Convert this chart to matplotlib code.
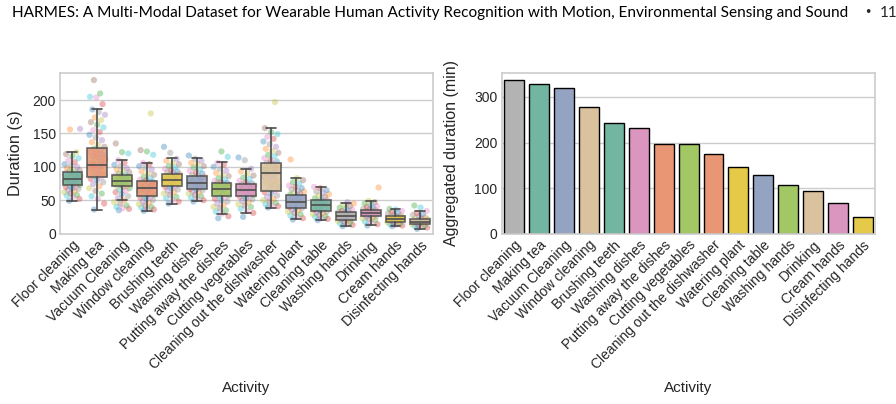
import numpy as np
import matplotlib
matplotlib.use("Agg")
import matplotlib.pyplot as plt
import seaborn as sns

sns.set_theme(style="whitegrid")
plt.rcParams['font.family'] = ['Liberation Sans', 'DejaVu Sans']

activities = ["Floor cleaning", "Making tea", "Vacuum Cleaning", "Window cleaning",
              "Brushing teeth", "Washing dishes", "Putting away the dishes",
              "Cutting vegetables", "Cleaning out the dishwasher", "Watering plant",
              "Cleaning table", "Washing hands", "Drinking", "Cream hands",
              "Disinfecting hands"]

# box statistics (seconds)
q1 = [72.5, 85, 71.5, 56.5, 71, 67.5, 56, 56.5, 64, 39, 34, 21, 26, 17.5, 14]
med = [82.5, 102.5, 79, 69, 80, 76, 67.5, 66, 91.5, 47.5, 42.5, 26.5, 31, 22, 17.5]
q3 = [92.4, 127.5, 87.5, 78.5, 89, 86, 76.5, 74, 105, 58.5, 50, 32.5, 36, 26, 22.5]
whislo = [49, 36, 50, 34, 45, 48.5, 30, 31.5, 39, 21.5, 20, 11.5, 12.5, 11.5, 7.5]
whishi = [122, 186, 110, 106, 112.5, 112.5, 106.5, 97, 158.5, 83.5, 70, 46.5, 49, 37.5, 34]

# individual recordings (seconds), approximate
durations = [
    [49, 52, 55, 57, 58, 60, 62, 64, 65, 67, 68, 70, 71, 72, 73, 74, 75, 76, 77, 78, 79, 80, 81, 82, 83, 84,
     85, 86, 87, 88, 89, 90, 91, 92, 93, 95, 96, 98, 100, 102, 104, 107, 110, 113, 116, 119, 122, 156, 157],
    [36, 45, 52, 56, 60, 64, 68, 71, 74, 77, 80, 82, 84, 86, 88, 90, 92, 94, 96, 98, 100, 102, 103, 105, 106,
     108, 110, 112, 114, 116, 118, 120, 122, 125, 127, 130, 133, 137, 140, 144, 148, 152, 155, 159, 163, 167,
     170, 174, 178, 182, 186, 194, 204, 205, 210, 230],
    [35, 37, 38, 40, 42, 45, 47, 50, 53, 56, 59, 62, 64, 66, 68, 70, 71, 72, 73, 74, 75, 76, 77, 78, 79, 80,
     81, 82, 83, 84, 85, 86, 87, 88, 90, 92, 94, 96, 98, 101, 103, 106, 110, 120, 122, 135],
    [34, 36, 37, 39, 40, 42, 44, 46, 48, 50, 52, 54, 55, 56, 58, 59, 61, 62, 64, 65, 67, 68, 69, 70, 71, 72,
     73, 75, 76, 77, 78, 80, 81, 83, 85, 88, 90, 93, 96, 99, 101, 104, 106, 118, 123, 125, 180],
    [45, 48, 50, 53, 55, 58, 60, 62, 64, 66, 68, 70, 71, 72, 74, 75, 77, 78, 79, 80, 81, 82, 83, 84, 86, 87,
     88, 89, 90, 92, 93, 95, 97, 99, 101, 104, 106, 109, 112, 121, 130],
    [48, 50, 52, 54, 56, 58, 60, 62, 63, 65, 66, 67, 69, 70, 71, 72, 73, 74, 75, 76, 77, 78, 79, 80, 81, 83,
     84, 85, 86, 88, 90, 92, 94, 96, 99, 101, 104, 106, 109, 112, 117],
    [23, 26, 30, 33, 35, 38, 40, 43, 45, 48, 50, 52, 54, 56, 57, 59, 60, 62, 63, 64, 66, 67, 68, 69, 70, 71,
     72, 73, 74, 75, 76, 77, 79, 81, 83, 86, 88, 91, 94, 97, 100, 103, 106, 115, 123],
    [25, 31, 34, 37, 40, 42, 44, 47, 49, 51, 53, 55, 56, 57, 58, 60, 61, 62, 63, 64, 65, 66, 67, 68, 69, 70,
     71, 72, 73, 74, 75, 77, 79, 82, 84, 87, 90, 93, 97, 110, 114],
    [39, 41, 42, 44, 46, 48, 50, 52, 55, 57, 60, 62, 64, 67, 70, 73, 76, 79, 82, 85, 88, 90, 92, 94, 96, 98,
     100, 102, 104, 106, 108, 110, 113, 116, 118, 121, 124, 127, 130, 134, 138, 142, 145, 149, 152, 158, 197],
    [21, 23, 25, 27, 29, 31, 33, 35, 36, 38, 39, 40, 42, 43, 45, 46, 47, 48, 49, 50, 52, 53, 55, 56, 58, 60,
     61, 63, 64, 66, 68, 70, 72, 75, 77, 80, 83, 111],
    [20, 22, 23, 25, 26, 28, 29, 31, 32, 33, 35, 36, 38, 39, 41, 42, 43, 44, 45, 46, 47, 48, 50, 51, 53, 55,
     57, 59, 61, 63, 65, 68, 70],
    [11, 13, 14, 15, 17, 18, 19, 20, 21, 22, 23, 24, 25, 26, 27, 28, 29, 30, 31, 32, 33, 34, 36, 38, 39, 41,
     43, 45, 47],
    [12, 14, 16, 18, 20, 22, 23, 24, 26, 27, 28, 29, 30, 31, 32, 33, 34, 35, 36, 37, 38, 40, 41, 43, 45, 47,
     49, 69],
    [11, 12, 13, 14, 15, 16, 17, 18, 19, 20, 21, 22, 22, 23, 24, 25, 26, 27, 28, 30, 31, 33, 34, 36, 37],
    [7, 9, 10, 11, 12, 13, 14, 15, 16, 17, 17, 18, 19, 20, 21, 22, 23, 24, 26, 28, 29, 31, 34, 39, 42],
]

# aggregated duration per activity (minutes)
total_min = [336, 328, 319.5, 278.5, 242, 233, 198, 196.5, 176, 147, 128, 107.5, 93, 67, 37]

set2 = sns.color_palette("Set2")
box_colors = [set2[i] for i in [0, 1, 4, 1, 5, 2, 4, 3, 6, 2, 0, 7, 3, 5, 6]]
bar_colors = [set2[i] for i in [7, 0, 2, 6, 0, 3, 1, 4, 1, 5, 2, 4, 6, 3, 5]]
point_colors = sns.color_palette("tab10")

fig = plt.figure(figsize=(8.96, 4.04), dpi=100)
fig.text(0.013, 0.968, "HARMES: A Multi-Modal Dataset for Wearable Human Activity Recognition with Motion, Environmental Sensing and Sound",
         fontsize=11.05, family="Lato", va="center", color="black")
fig.text(0.969, 0.968, "\u2022", fontsize=9, family="DejaVu Sans", va="center", ha="center")
fig.text(0.982, 0.968, "11", fontsize=11.05, family="Lato", va="center", ha="left")

ax1 = fig.add_axes([0.067, 0.421, 0.416, 0.399])
ax2 = fig.add_axes([0.560, 0.421, 0.417, 0.399])

x = np.arange(len(activities))

# strip points
for i, vals in enumerate(durations):
    n = len(vals)
    k = np.arange(n)
    offs = ((k * 0.618034 + 0.3) % 1 - 0.5) * 0.66
    cols = [point_colors[(j * 3) % 10] for j in k]
    ax1.scatter(i + offs, vals, s=20, c=cols, alpha=0.35, linewidths=0, zorder=1)

stats = []
for i in range(len(activities)):
    stats.append(dict(med=med[i], q1=q1[i], q3=q3[i], whislo=whislo[i], whishi=whishi[i], fliers=[]))
bp = ax1.bxp(stats, positions=x, widths=0.8, patch_artist=True, showfliers=False,
             boxprops=dict(edgecolor="0.3", linewidth=1.2),
             medianprops=dict(color="0.3", linewidth=1.2),
             whiskerprops=dict(color="0.3", linewidth=1.2),
             capprops=dict(color="0.3", linewidth=1.2), capwidths=0.4)
for patch, c in zip(bp["boxes"], box_colors):
    patch.set_facecolor(sns.desaturate(c, 0.75))
    patch.set_alpha(0.85)
    patch.set_zorder(2)

ax1.set_xlim(-0.5, len(activities) - 0.5)
ax1.set_ylim(-0.5, 241)
ax1.set_yticks([0, 50, 100, 150, 200])
ax1.set_xticks(x)
ax1.set_xticklabels(activities, rotation=45, ha="right", rotation_mode="anchor")
ax1.set_ylabel("Duration (s)", fontsize=11.8, labelpad=7)
ax1.set_xlabel("Activity", fontsize=11, labelpad=6)
ax1.xaxis.grid(False)

ax2.bar(x, total_min, width=0.8, color=[sns.desaturate(c, 0.75) for c in bar_colors],
        edgecolor="black", linewidth=1.0, zorder=2)
ax2.set_xlim(-0.5, len(activities) - 0.5)
ax2.set_ylim(0, 353)
ax2.set_yticks([0, 100, 200, 300])
ax2.set_xticks(x)
ax2.set_xticklabels(activities, rotation=45, ha="right", rotation_mode="anchor")
ax2.set_ylabel("Aggregated duration (min)", fontsize=11.5, labelpad=11)
ax2.set_xlabel("Activity", fontsize=11, labelpad=6)
ax2.xaxis.grid(False)

for ax in (ax1, ax2):
    ax.tick_params(axis="both", labelsize=10, pad=3, length=0, labelcolor="0.15")
    ax.set_axisbelow(True)
    for s in ax.spines.values():
        s.set_color("0.8")
        s.set_linewidth(1.2)

fig.savefig("out.png", dpi=100)
